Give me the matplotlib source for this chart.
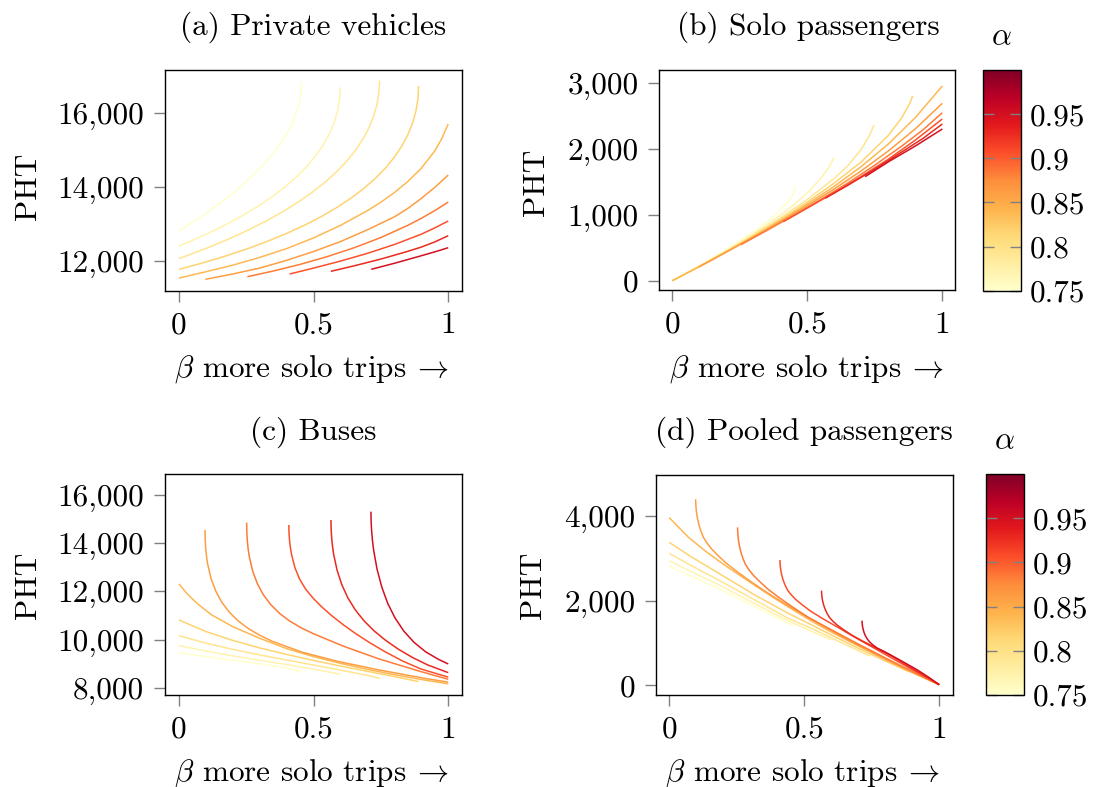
import matplotlib
matplotlib.use('Agg')
import matplotlib.pyplot as plt
from matplotlib.colors import Normalize
from matplotlib.cm import ScalarMappable
from matplotlib.ticker import FuncFormatter

plt.rcParams['font.family'] = 'serif'
plt.rcParams['font.serif'] = ['cmr10']
plt.rcParams['mathtext.fontset'] = 'cm'
plt.rcParams['axes.formatter.use_mathtext'] = True

# ------------------------------------------------------------------ data
ALPHAS = [0.75, 0.772, 0.794, 0.817, 0.839, 0.861, 0.883, 0.906, 0.928, 0.95]

# (a) private vehicles
A_X = [
    [0, .096, .1535, .206, .2535, .296, .3335, .366, .3935, .416, .4335, .446, .4535, .456],
    [0, .0514, .109, .1765, .239, .2965, .349, .3965, .439, .4765, .509, .5365, .559,
     .5765, .589, .5965, .599],
    [0, .105, .1825, .255, .3225, .385, .4425, .495, .5425, .585, .6225, .655, .6825,
     .705, .7225, .735, .7425, .745],
    [0, .08, .1675, .25, .3275, .4, .4675, .53, .5875, .64, .6875, .73, .7675, .8,
     .8275, .85, .8675, .88, .8875, .89],
    [0, .1, .2, .3, .4, .5, .6, .7, .75, .8, .85, .9, .95, .975, 1.0],
    [.098, .2, .3, .4, .5, .6, .7, .8, .85, .9, .95, 1.0],
    [.254, .35, .45, .55, .65, .75, .85, .9, .95, 1.0],
    [.411, .5, .6, .7, .8, .9, .95, 1.0],
    [.564, .65, .75, .85, .9, .95, 1.0],
    [.714, .8, .9, .95, 1.0],
]
A_Y = [
    [12805, 13264, 13568, 13870, 14173, 14474, 14775, 15075, 15374, 15672, 15970,
     16267, 16563, 16859],
    [12399, 12557, 12747, 12989, 13237, 13492, 13753, 14020, 14294, 14573, 14859,
     15152, 15450, 15755, 16066, 16383, 16706],
    [12058, 12346, 12582, 12824, 13073, 13328, 13589, 13857, 14131, 14412, 14699,
     14992, 15292, 15598, 15911, 16230, 16555, 16887],
    [11765, 11924, 12114, 12314, 12523, 12741, 12968, 13204, 13449, 13704, 13967,
     14239, 14520, 14810, 15109, 15418, 15735, 16061, 16397, 16741],
    [11530, 11700, 11880, 12090, 12330, 12620, 12960, 13360, 13590, 13850, 14150,
     14510, 14980, 15300, 15710],
    [11495, 11640, 11800, 12010, 12250, 12520, 12840, 13190, 13420, 13690, 13990, 14326],
    [11566, 11720, 11900, 12110, 12350, 12630, 12960, 13150, 13360, 13593],
    [11639, 11800, 11990, 12200, 12440, 12720, 12890, 13077],
    [11712, 11860, 12045, 12255, 12370, 12510, 12679],
    [11766, 11930, 12135, 12240, 12353],
]

# (b) solo passengers
B_X = [
    [0, .1, .2, .3, .35, .4, .43, .45, .457],
    [0, .1, .2, .3, .4, .45, .5, .55, .58, .6],
    [0, .1, .2, .3, .4, .5, .6, .65, .7, .73, .747],
    [0, .1, .2, .3, .4, .5, .6, .7, .8, .85, .88, .89],
    [0, .1, .2, .3, .4, .5, .6, .7, .8, .9, 1.0],
    [.098, .2, .3, .4, .5, .6, .7, .8, .9, 1.0],
    [.254, .35, .45, .55, .65, .75, .85, .93, 1.0],
    [.411, .5, .6, .7, .8, .9, 1.0],
    [.566, .65, .75, .85, .93, 1.0],
    [.714, .8, .9, 1.0],
]
B_Y = [
    [0, 225, 470, 740, 890, 1070, 1200, 1330, 1424],
    [0, 220, 455, 710, 990, 1150, 1330, 1550, 1720, 1869],
    [0, 215, 445, 690, 950, 1230, 1550, 1740, 1990, 2200, 2358],
    [0, 213, 440, 675, 925, 1190, 1480, 1800, 2200, 2470, 2690, 2798],
    [0, 212, 435, 665, 905, 1160, 1430, 1730, 2070, 2470, 2950],
    [208, 432, 658, 892, 1135, 1390, 1665, 1965, 2300, 2687],
    [545, 760, 990, 1230, 1480, 1750, 2040, 2290, 2545],
    [894, 1100, 1335, 1580, 1840, 2130, 2450],
    [1248, 1445, 1690, 1950, 2160, 2374],
    [1576, 1800, 2040, 2298],
]

# (c) buses
C_X = [
    [0, .1, .2, .3, .4, .457],
    [0, .1, .2, .3, .4, .5, .6],
    [0, .1, .2, .3, .4, .5, .6, .7, .746],
    [0, .1, .2, .3, .4, .5, .6, .7, .8, .89],
    [0, .03, .07, .12, .2, .3, .4, .5, .6, .7, .8, .9, 1.0],
    [.0966, .0972, .0991, .1022, .1066, .1191, .1366, .1591, .1866, .2191, .2566,
     .2991, .3466, .4566, .5866, .7366, .9066, 1.0],
    [.2513, .2519, .2538, .2569, .2613, .2738, .2913, .3138, .3413, .3738, .4113,
     .4538, .5013, .6113, .7413, .8913, 1.0],
    [.408, .4086, .4105, .4136, .418, .4305, .448, .4705, .498, .5305, .568, .6105,
     .658, .7105, .768, .8305, .898, 1.0],
    [.5644, .565, .5669, .57, .5744, .5869, .6044, .6269, .6544, .6869, .7244, .7669,
     .8144, .8669, .9244, 1.0],
    [.713, .7136, .7155, .7186, .723, .7355, .753, .7755, .803, .8355, .873, .9155,
     .963, 1.0],
]
C_Y = [
    [9456, 9290, 9140, 8990, 8820, 8640],
    [9747, 9520, 9320, 9140, 8960, 8770, 8557],
    [10161, 9850, 9590, 9360, 9150, 8940, 8730, 8510, 8391],
    [10811, 10330, 9960, 9650, 9380, 9130, 8900, 8680, 8460, 8253],
    [12305, 11900, 11470, 11030, 10530, 10050, 9620, 9290, 9010, 8760, 8540, 8340, 8160],
    [14546, 14157, 13790, 13445, 13121, 12530, 12006, 11544, 11136, 10777, 10461,
     10180, 9926, 9476, 9100, 8750, 8400, 8230],
    [14850, 14461, 14094, 13749, 13425, 12834, 12310, 11848, 11440, 11081, 10765,
     10484, 10230, 9720, 9200, 8690, 8350],
    [14753, 14433, 14123, 13823, 13528, 12984, 12503, 12088, 11716, 11350, 10981,
     10609, 10231, 9853, 9476, 9108, 8778, 8440],
    [14960, 14590, 14230, 13880, 13535, 12885, 12285, 11735, 11235, 10779, 10360,
     9970, 9600, 9255, 8940, 8626],
    [15306, 14906, 14506, 14106, 13706, 12925, 12181, 11493, 10881, 10343, 9881,
     9493, 9181, 8985],
]

# (d) pooled passengers
D_X = [
    [0, .0705, .194, .317, .441, .457],
    [0, .0705, .194, .317, .441, .54, .6],
    [0, .0705, .194, .317, .441, .54, .6, .7, .745],
    [0, .0705, .194, .317, .441, .54, .6, .7, .8, .89],
    [0, .0705, .132, .194, .256, .317, .379, .441, .54, .6, .7, .8, .9, 1.0],
    [.0977, .0985, .1, .1025, .106, .111, .118, .127, .14, .157, .18, .21, .25, .3,
     .36, .44, .54, .64, .74, .84, .92, 1.0],
    [.253, .2538, .2553, .2578, .2613, .2663, .2733, .2823, .2953, .3123, .3353,
     .3653, .4053, .4553, .5153, .5953, .6953, .7953, .8953, 1.0],
    [.41, .4108, .4123, .4148, .4183, .4233, .4303, .4393, .4523, .4693, .4923,
     .5223, .5623, .6123, .7, .8, .9, 1.0],
    [.564, .5648, .5663, .5688, .5723, .5773, .5843, .5933, .6063, .6233, .6463,
     .6763, .7163, .7663, .8263, .9, .95, 1.0],
    [.714, .7146, .716, .7185, .722, .727, .734, .743, .755, .77, .79, .815, .845,
     .88, .92, .96, 1.0],
]
D_Y = [
    [2818, 2610, 2250, 1860, 1460, 1410],
    [2944, 2720, 2340, 1930, 1520, 1240, 1070],
    [3117, 2865, 2448, 2015, 1582, 1306, 1120, 820, 690],
    [3377, 3078, 2605, 2133, 1700, 1385, 1190, 875, 575, 315],
    [3960, 3500, 3180, 2890, 2620, 2360, 2100, 1850, 1470, 1260, 930, 610, 300, 15],
    [4393, 4270, 4140, 4020, 3900, 3770, 3630, 3490, 3360, 3220, 3070, 2890, 2690,
     2460, 2200, 1880, 1510, 1150, 815, 495, 250, 15],
    [3731, 3612, 3486, 3369, 3253, 3127, 2991, 2855, 2729, 2593, 2448, 2273, 2079,
     1856, 1604, 1330, 990, 665, 345, 15],
    [2960, 2862, 2758, 2662, 2566, 2462, 2350, 2238, 2134, 2022, 1902, 1758, 1598,
     1414, 1090, 730, 370, 15],
    [2236, 2150, 2059, 1975, 1891, 1800, 1702, 1604, 1513, 1415, 1310, 1184, 1044,
     883, 680, 400, 215, 15],
    [1527, 1460, 1390, 1315, 1240, 1165, 1090, 1020, 950, 880, 820, 735, 630, 505,
     360, 195, 15],
]

TITLES = ['(a) Private vehicles', '(b) Solo passengers',
          '(c) Buses', '(d) Pooled passengers']
XLABEL = r'$\beta$ more solo trips$\:\rightarrow$'
YTICKS = [[12000, 14000, 16000], [0, 1000, 2000, 3000],
          [8000, 10000, 12000, 14000, 16000], [0, 2000, 4000]]
CB_TICKS = [0.75, 0.8, 0.85, 0.9, 0.95]

# ---------------------------------------------------------------- layout
W, H = 1093, 787
FS = 22.5


def rect(l, r, t, b):
    return [l / W, 1 - b / H, (r - l) / W, (b - t) / H]


fig = plt.figure(figsize=(W / 100, H / 100), dpi=100)

panels = [
    (A_X, A_Y, rect(165, 461.7, 70, 290.7), (-0.052, 1.05), (11186, 17176)),
    (B_X, B_Y, rect(659.3, 955, 70, 290), (-0.048, 1.047), (-141, 3192)),
    (C_X, C_Y, rect(165, 461.7, 474.3, 695), (-0.052, 1.05), (7697, 16856)),
    (D_X, D_Y, rect(656, 952.7, 474.7, 695), (-0.049, 1.05), (-229, 4974)),
]
title_pos = [(313, 27), (808, 27), (313, 432), (804, 432)]
xlab_pos = [(311, 369), (806, 369), (311, 773), (802, 773)]
ylab_pos = [(28, 186), (536, 182), (28, 585), (533, 585)]

cmap = plt.get_cmap('YlOrRd')
norm = Normalize(vmin=0.75, vmax=1.0)

for k, (xs, ys, r, xl, yl) in enumerate(panels):
    ax = fig.add_axes(r)
    for a, x, y in zip(ALPHAS, xs, ys):
        ax.plot(x, y, color=cmap(norm(a)), lw=1.1, solid_capstyle='butt',
                solid_joinstyle='round')
    ax.set_xlim(*xl)
    ax.set_ylim(*yl)
    ax.set_xticks([0, 0.5, 1])
    ax.set_yticks(YTICKS[k])
    ax.xaxis.set_major_formatter(FuncFormatter(lambda v, _: f'{v:g}'))
    ax.yaxis.set_major_formatter(FuncFormatter(lambda v, _: f'{v:,.0f}'))
    ax.tick_params(direction='out', length=8, width=1, color='#808080',
                   labelsize=FS, pad=7)
    for s in ax.spines.values():
        s.set_linewidth(1.0)
    tx, ty = title_pos[k]
    fig.text(tx / W, 1 - ty / H, TITLES[k], fontsize=FS, ha='center', va='center')
    tx, ty = xlab_pos[k]
    fig.text(tx / W, 1 - ty / H, XLABEL, fontsize=FS, ha='center', va='center')
    tx, ty = ylab_pos[k]
    fig.text(tx / W, 1 - ty / H, 'PHT', fontsize=FS, ha='center',
             va='center', rotation=90)

for r, (tx, ty) in [(rect(982.7, 1021, 70, 290.7), (1001, 37)),
                    (rect(986, 1024.3, 474, 695), (1004, 441))]:
    cax = fig.add_axes(r)
    cb = fig.colorbar(ScalarMappable(norm=norm, cmap=cmap), cax=cax)
    cb.set_ticks(CB_TICKS)
    cb.ax.yaxis.set_major_formatter(FuncFormatter(lambda v, _: f'{v:g}'))
    cb.ax.tick_params(direction='in', length=8, width=1, color='#808080',
                      left=True, right=True, labelsize=FS, pad=6)
    cb.outline.set_linewidth(1.0)
    fig.text(tx / W, 1 - ty / H, r'$\alpha$', fontsize=FS, ha='center', va='center')

fig.savefig('out.png', dpi=100)
